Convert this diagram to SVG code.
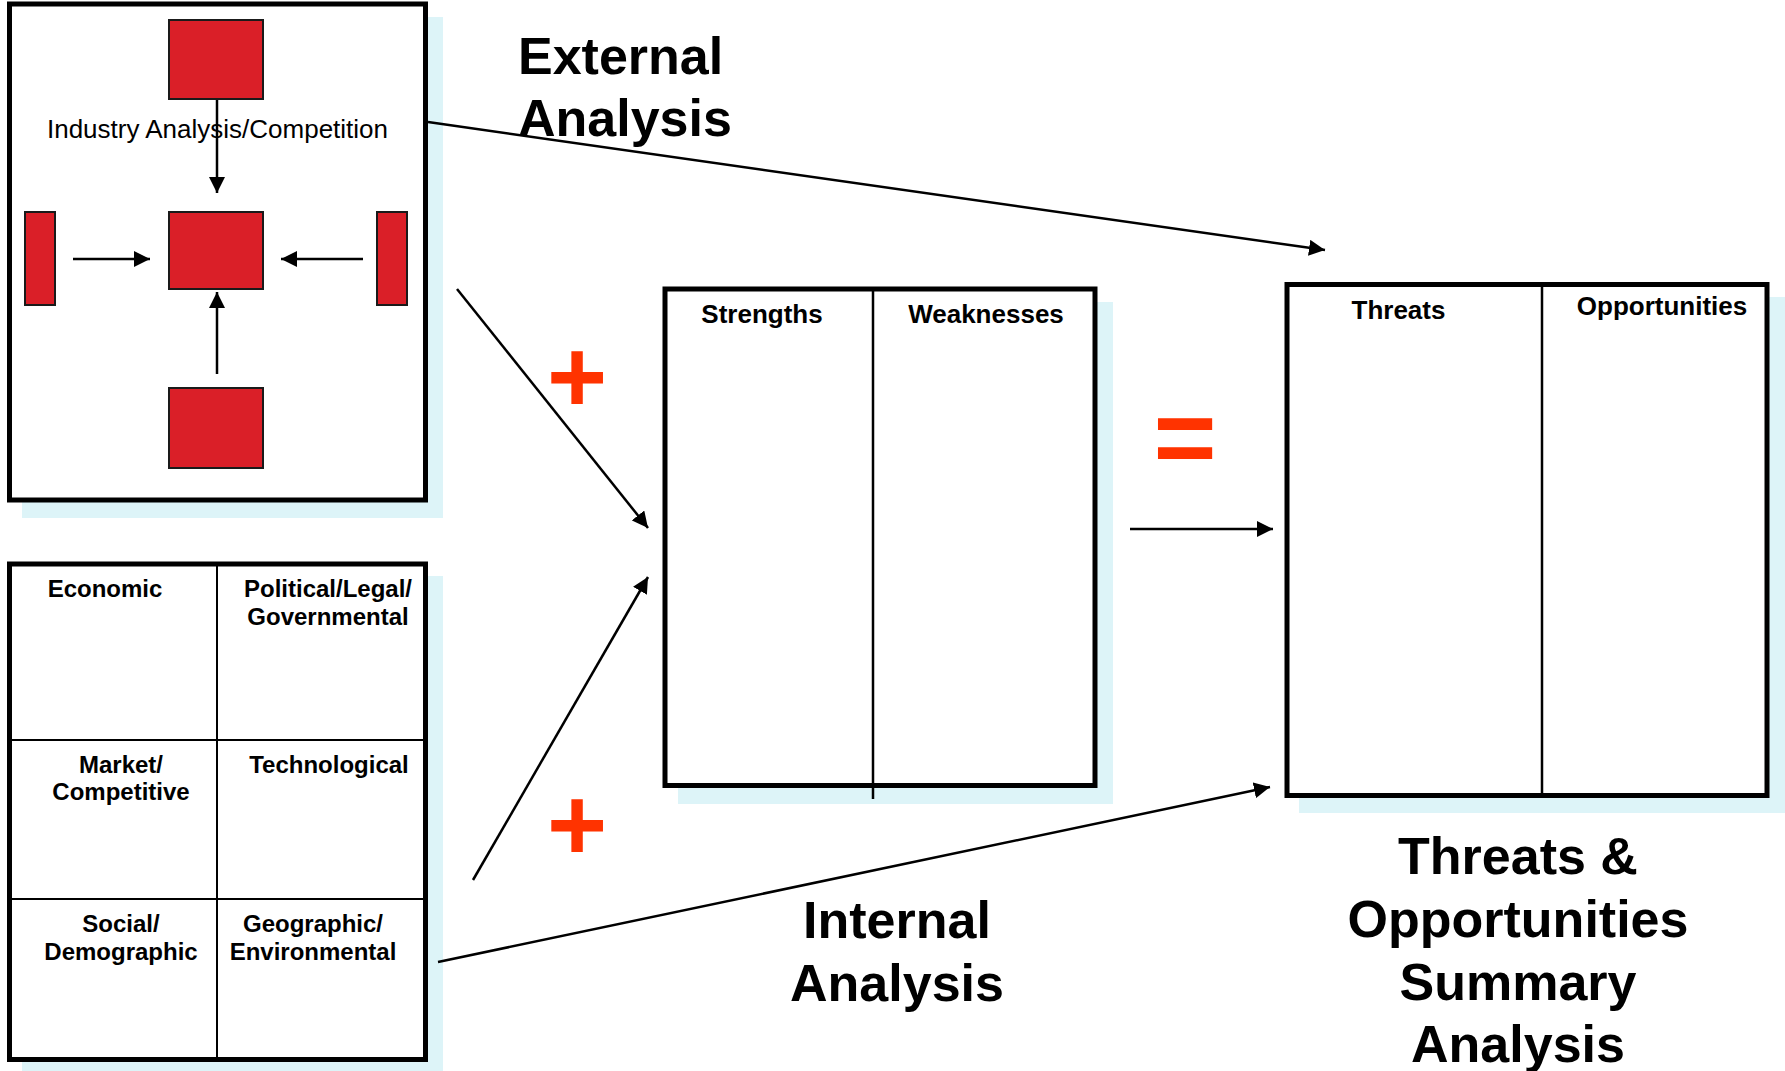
<svg xmlns="http://www.w3.org/2000/svg" width="1785" height="1071" viewBox="0 0 1785 1071">
  <style>
    .shadow { fill: #DDF4F8; stroke: none; }
    .box { fill: #FFFFFF; stroke: #000000; stroke-width: 5; }
    .div { stroke: #000000; stroke-width: 2.5; fill: none; }
    .grid { stroke: #000000; stroke-width: 2; fill: none; }
    .red { fill: #DA1F28; stroke: #1A1A1A; stroke-width: 2; }
    .conn { stroke: #000000; stroke-width: 2.5; fill: none; marker-end: url(#arrow); }
    .lbl { font-family: "Liberation Sans", Arial, sans-serif; font-weight: bold; font-size: 24px; fill: #000; text-anchor: middle; }
    .hdr { font-family: "Liberation Sans", Arial, sans-serif; font-weight: bold; font-size: 26px; fill: #000; text-anchor: middle; }
    .title { font-family: "Liberation Sans", Arial, sans-serif; font-weight: bold; font-size: 52px; fill: #000; }
    .op { font-family: "Liberation Sans", Arial, sans-serif; font-weight: bold; fill: #FF3300; text-anchor: middle; }
  </style>
  <defs>
    <marker id="arrow" markerUnits="userSpaceOnUse" markerWidth="16" markerHeight="16" refX="16" refY="8" orient="auto">
      <path d="M0,0 L16,8 L0,16 z" fill="#000"/>
    </marker>
  </defs>

  <rect width="1785" height="1071" fill="#FFFFFF"/>

  <!-- Industry analysis box -->
  <g id="industry-analysis">
    <rect class="shadow" x="22" y="17" width="421" height="501"/>
    <rect class="box" x="9.5" y="4" width="416" height="496"/>
    <rect class="red" x="169" y="20" width="94" height="79"/>
    <rect class="red" x="169" y="212" width="94" height="77"/>
    <rect class="red" x="169" y="388" width="94" height="80"/>
    <rect class="red" x="25" y="212" width="30" height="93"/>
    <rect class="red" x="377" y="212" width="30" height="93"/>
    <line class="conn" x1="217" y1="100" x2="217" y2="193"/>
    <line class="conn" x1="217" y1="374" x2="217" y2="292"/>
    <line class="conn" x1="73" y1="259" x2="150" y2="259"/>
    <line class="conn" x1="363" y1="259" x2="281" y2="259"/>
    <text x="217.5" y="138" font-family="Liberation Sans, Arial, sans-serif" font-size="26" text-anchor="middle" fill="#000">Industry Analysis/Competition</text>
  </g>

  <!-- PEST / environment box -->
  <g id="environment-analysis">
    <rect class="shadow" x="22" y="576" width="421" height="501"/>
    <rect class="box" x="9.5" y="564" width="416" height="495.5"/>
    <line class="grid" x1="217" y1="564" x2="217" y2="1059"/>
    <line class="grid" x1="9.5" y1="740" x2="425.5" y2="740"/>
    <line class="grid" x1="9.5" y1="899" x2="425.5" y2="899"/>
    <text class="lbl" x="105" y="597">Economic</text>
    <text class="lbl" x="328" y="597">Political/Legal/</text>
    <text class="lbl" x="328" y="625">Governmental</text>
    <text class="lbl" x="121" y="773">Market/</text>
    <text class="lbl" x="121" y="800">Competitive</text>
    <text class="lbl" x="329" y="773">Technological</text>
    <text class="lbl" x="121" y="932">Social/</text>
    <text class="lbl" x="121" y="960">Demographic</text>
    <text class="lbl" x="313" y="932">Geographic/</text>
    <text class="lbl" x="313" y="960">Environmental</text>
  </g>

  <!-- Strengths / Weaknesses -->
  <g id="strengths-weaknesses">
    <rect class="shadow" x="678" y="302" width="435" height="502"/>
    <rect class="box" x="665" y="289" width="430" height="496.5"/>
    <line class="div" x1="873" y1="289" x2="873" y2="799"/>
    <text class="hdr" x="762" y="323">Strengths</text>
    <text class="hdr" x="986" y="323">Weaknesses</text>
  </g>

  <!-- Threats / Opportunities -->
  <g id="threats-opportunities">
    <rect class="shadow" x="1299" y="297" width="486" height="516"/>
    <rect class="box" x="1287" y="284.5" width="480" height="511"/>
    <line class="div" x1="1542" y1="284.5" x2="1542" y2="795.5"/>
    <text class="hdr" x="1398.5" y="319">Threats</text>
    <text class="hdr" x="1662" y="315">Opportunities</text>
  </g>

  <!-- Connectors -->
  <g id="connectors">
    <line class="conn" x1="428" y1="122" x2="1325" y2="250"/>
    <line class="conn" x1="457" y1="289" x2="648" y2="528"/>
    <line class="conn" x1="473" y1="880" x2="648" y2="577"/>
    <line class="conn" x1="1130" y1="529" x2="1273" y2="529"/>
    <line class="conn" x1="438" y1="962" x2="1270" y2="787"/>
  </g>

  <!-- Operators -->
  <g id="operators">
    <text class="op" x="577" y="412" font-size="103">+</text>
    <text class="op" x="577" y="860" font-size="103">+</text>
    <text class="op" x="1185" y="474" font-size="108">=</text>
  </g>

  <!-- Titles -->
  <g id="titles">
    <text class="title" x="518" y="74">External</text>
    <text class="title" x="518" y="136">Analysis</text>
    <text class="title" x="897" y="938" text-anchor="middle">Internal</text>
    <text class="title" x="897" y="1001" text-anchor="middle">Analysis</text>
    <text class="title" x="1518" y="874" text-anchor="middle">Threats &amp;</text>
    <text class="title" x="1518" y="937" text-anchor="middle">Opportunities</text>
    <text class="title" x="1518" y="1000" text-anchor="middle">Summary</text>
    <text class="title" x="1518" y="1062" text-anchor="middle">Analysis</text>
  </g>
</svg>
